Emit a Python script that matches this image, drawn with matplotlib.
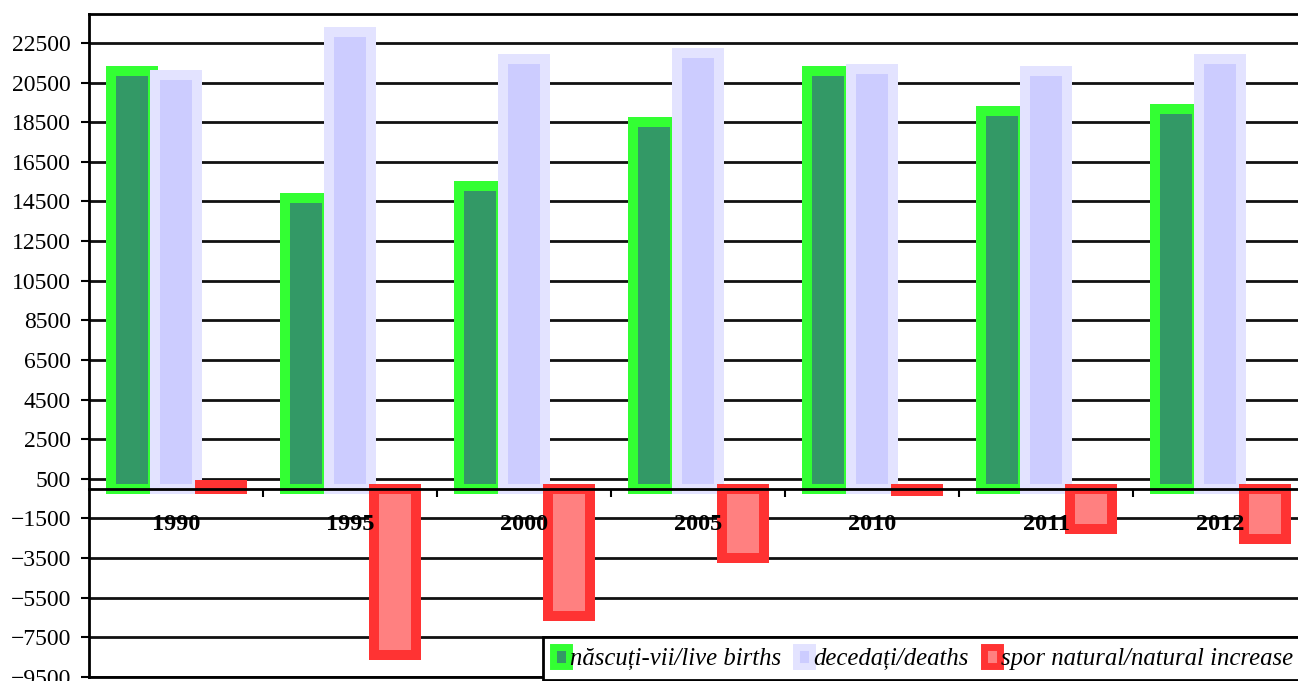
import matplotlib
matplotlib.use('Agg')
import matplotlib.pyplot as plt
import numpy as np
from matplotlib.patches import Patch

# data
years = ['1990', '1995', '2000', '2005', '2010', '2011', '2012']
births = [21080, 14650, 15300, 18500, 21080, 19060, 19160]
deaths = [20880, 23050, 21700, 22000, 21180, 21080, 21700]
increase = [200, -8400, -6400, -3500, -100, -2020, -2540]
labels = ['născuți-vii/live births', 'decedați/deaths', 'spor natural/natural increase']
yticks = np.arange(-9500, 22501, 2000)

plt.rcParams['font.family'] = ['Liberation Serif', 'DejaVu Serif']

fig = plt.figure(figsize=(12.98, 6.81), dpi=100)
ax = fig.add_axes([89/1298, 4/681, 1218/1298, 663/681])
ymin, ymax = -9500, 23960

x = np.arange(len(years)) + 0.5
w = 0.24
ax.bar(x - 0.254, births, w, color='#339966', edgecolor='#33FF33', linewidth=7.2, zorder=2)
ax.bar(x, deaths, w, color='#CCCCFF', edgecolor='#E3E3FF', linewidth=7.2, zorder=3)
ax.bar(x + 0.258, increase, w, color='#FF8080', edgecolor='#FF3333', linewidth=7.2, zorder=4)

ax.set_xlim(0, len(years))
ax.set_ylim(ymin, ymax)
ax.set_yticks(yticks)
ax.grid(axis='y', color='#111111', linewidth=2)
ax.set_axisbelow(True)
ax.tick_params(axis='x', bottom=False, labelbottom=False)
ax.tick_params(axis='y', direction='out', length=6, width=1.5, pad=7, labelsize=17)
for s in ['top', 'left', 'bottom']:
  ax.spines[s].set_linewidth(2)
ax.spines['right'].set_visible(False)

# category axis crossing at zero
sec = ax.secondary_xaxis((0 - ymin) / (ymax - ymin))
sec.set_xticks(np.arange(1, len(years)))
sec.set_xticks(x, years, minor=True)
sec.tick_params(which='major', direction='out', length=6, width=1.5, labelbottom=False)
sec.tick_params(which='minor', length=0, pad=18, labelsize=17.5)
for t in sec.get_xticklabels(minor=True):
  t.set_fontweight('bold')
sec.spines['bottom'].set_linewidth(2)
sec.set_zorder(5)

handles = [Patch(facecolor='#339966', edgecolor='#33FF33', linewidth=5),
           Patch(facecolor='#CCCCFF', edgecolor='#E3E3FF', linewidth=5),
           Patch(facecolor='#FF8080', edgecolor='#FF3333', linewidth=5)]
leg = fig.legend(handles, labels, loc='upper left', bbox_to_anchor=(543/1298, 1 - 637/681),
                 ncol=3, frameon=True, fancybox=False, edgecolor='black', framealpha=1,
                 prop=dict(family='Liberation Serif', style='italic', size=17.8),
                 handlelength=0.65, handleheight=0.8, handletextpad=0.05, columnspacing=0.6,
                 borderpad=0.4, borderaxespad=0)
leg.get_frame().set_linewidth(2)

fig.savefig('out.png', dpi=100)
